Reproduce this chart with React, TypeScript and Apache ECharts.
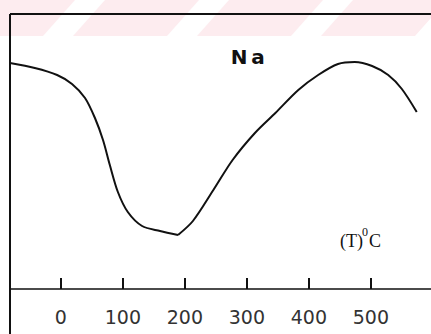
import React, { useEffect, useRef } from "react";
import * as echarts from "echarts";

// Temperature (°C) and relative signal
const fallTemps = [-82, -42, -6, 18, 39, 55, 68, 79, 92, 108, 131, 160, 189];
const fallValues = [226, 221, 214, 205, 191, 171, 149, 124, 97, 77, 63, 58, 54];
const riseTemps = [189, 213, 246, 277, 313, 346, 383, 415, 447, 474, 502, 528, 550, 574];
const riseValues = [54, 68, 99, 129, 156, 176, 199, 214, 225, 227, 223, 214, 200, 177];
const tickValues = [0, 100, 200, 300, 400, 500];
const stripeStarts = [43, 167, 291, 415];

export default function App() {
  const ref = useRef<HTMLDivElement>(null);
  useEffect(() => {
    document.body.style.margin = "0";
    const chart = echarts.init(ref.current!, null, { renderer: "svg" });
    const toPairs = (t: number[], v: number[]) => t.map((x, i) => [x, v[i]]);
    const stripes = stripeStarts.map((b) => ({
      type: "polygon",
      silent: true,
      z: -9,
      shape: { points: [[b, 36], [b + 30, 36], [b + 62, 0], [b + 32, 0]] },
      style: { fill: "#ffffff" },
    }));
    chart.setOption({
      animation: false,
      backgroundColor: "#ffffff",
      grid: { left: 10, right: 0, top: 14, bottom: 45 },
      xAxis: {
        type: "value",
        min: -82,
        max: 597,
        splitLine: { show: false },
        axisLine: { show: true, lineStyle: { color: "#111", width: 1.5 } },
        axisTick: {
          show: true,
          inside: true,
          length: 11,
          customValues: tickValues,
          lineStyle: { color: "#111", width: 2 },
        },
        axisLabel: {
          show: true,
          customValues: tickValues,
          margin: 18,
          fontFamily: "DejaVu Sans",
          fontSize: 19,
          color: "#333",
        },
      },
      yAxis: {
        type: "value",
        min: 0,
        max: 275,
        show: false,
      },
      series: [
        {
          type: "line",
          data: toPairs(fallTemps, fallValues),
          smooth: 0.3,
          symbol: "none",
          lineStyle: { color: "#111", width: 2 },
        },
        {
          type: "line",
          data: toPairs(riseTemps, riseValues),
          smooth: 0.3,
          symbol: "none",
          lineStyle: { color: "#111", width: 2 },
        },
      ],
      graphic: [
        { type: "rect", silent: true, z: -10, shape: { x: 0, y: 0, width: 431, height: 36 }, style: { fill: "#fdecef" } },
        ...stripes,
        { type: "line", silent: true, z: 10, shape: { x1: 10, y1: 14, x2: 431, y2: 14 }, style: { stroke: "#111", lineWidth: 2 } },
        { type: "line", silent: true, z: 10, shape: { x1: 10, y1: 14, x2: 10, y2: 334 }, style: { stroke: "#111", lineWidth: 2 } },
        {
          type: "text",
          z: 10,
          x: 239,
          y: 57,
          style: { text: "N", fontFamily: "DejaVu Sans", fontWeight: "bold", fontSize: 20, fill: "#111", align: "center", verticalAlign: "middle" },
        },
        {
          type: "text",
          z: 10,
          x: 258,
          y: 57,
          style: { text: "a", fontFamily: "DejaVu Sans", fontWeight: "bold", fontSize: 20, fill: "#111", align: "center", verticalAlign: "middle" },
        },
        {
          type: "text",
          z: 10,
          x: 340,
          y: 241,
          style: { text: "(T)", fontFamily: "Liberation Serif", fontSize: 18, fill: "#111", align: "left", verticalAlign: "middle" },
        },
        {
          type: "text",
          z: 10,
          x: 362,
          y: 232,
          style: { text: "0", fontFamily: "Liberation Serif", fontSize: 12, fill: "#111", align: "left", verticalAlign: "middle" },
        },
        {
          type: "text",
          z: 10,
          x: 369,
          y: 241,
          style: { text: "C", fontFamily: "Liberation Serif", fontSize: 18, fill: "#111", align: "left", verticalAlign: "middle" },
        },
      ],
    });
    return () => chart.dispose();
  }, []);
  return <div ref={ref} style={{ width: 431, height: 334 }} />;
}
